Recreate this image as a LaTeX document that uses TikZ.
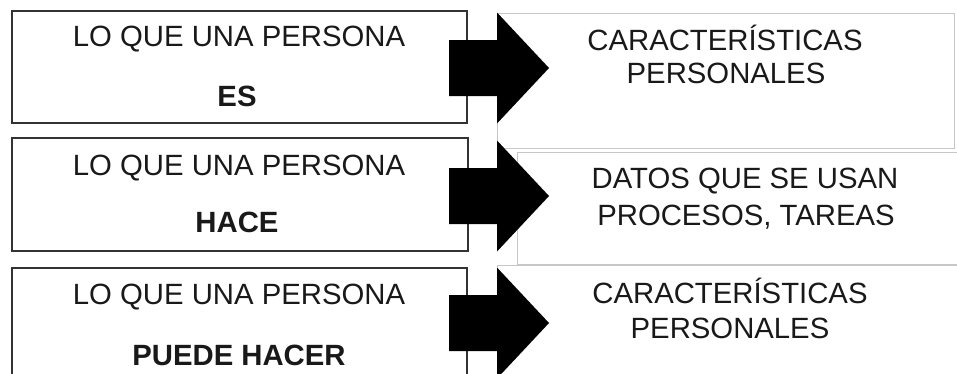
\documentclass[tikz,border=0pt]{standalone}
\usepackage{fontspec}
\setmainfont{Liberation Sans}
\begin{document}
\begin{tikzpicture}[x=1pt,y=-1pt,
  leftbox/.style={draw=black!80, line width=1.5pt, fill=white, inner sep=0pt, anchor=north west},
  rightbox/.style={draw=black!22, line width=1pt, fill=white, inner sep=0pt, anchor=north west},
  txt/.style={inner sep=0pt, anchor=base, text=black!90, font=\fontsize{29.3}{34}\selectfont},
  pics/fatarrow/.style={code={
    \fill[black] (-48,-28) -- (0,-28) -- (0,-55.5) -- (52,0) -- (0,55.5) -- (0,28) -- (-48,28) -- cycle;}}
]
\useasboundingbox (0,0) rectangle (957,373);
\clip (0,0) rectangle (957,373);

% result boxes on the right
\node[rightbox, minimum width=457pt, minimum height=135pt] (r1) at (497,13) {};
\node[rightbox, minimum width=460pt, minimum height=112pt] (r2) at (517,152) {};
\node[rightbox, minimum width=470pt, minimum height=130pt] (r3) at (497,265) {};

% statement boxes on the left
\node[leftbox, minimum width=455pt, minimum height=112pt] (l1) at (11,10) {};
\node[leftbox, minimum width=456pt, minimum height=113pt] (l2) at (11,137) {};
\node[leftbox, minimum width=455pt, minimum height=130pt] (l3) at (11,267) {};

% block arrows from each statement to its result
\pic (a1) at (497,68) {fatarrow};
\pic (a2) at (497,196) {fatarrow};
\pic (a3) at (497,323) {fatarrow};

% texts
\node[txt] (t1a) at (239,46) {LO QUE UNA PERSONA};
\node[txt] (t1b) at (237,106) {\bfseries ES};
\node[txt] (t2a) at (239,175) {LO QUE UNA PERSONA};
\node[txt] (t2b) at (237,232) {\bfseries HACE};
\node[txt] (t3a) at (239,304) {LO QUE UNA PERSONA};
\node[txt] (t3b) at (239,365) {\bfseries PUEDE HACER};

\node[txt] (s1a) at (725,50) {CARACTERÍSTICAS};
\node[txt] (s1b) at (726,83) {PERSONALES};
\node[txt] (s2a) at (745,188) {DATOS QUE SE USAN};
\node[txt] (s2b) at (746,225) {PROCESOS, TAREAS};
\node[txt] (s3a) at (730,303) {CARACTERÍSTICAS};
\node[txt] (s3b) at (730,338) {PERSONALES};
\end{tikzpicture}
\end{document}
